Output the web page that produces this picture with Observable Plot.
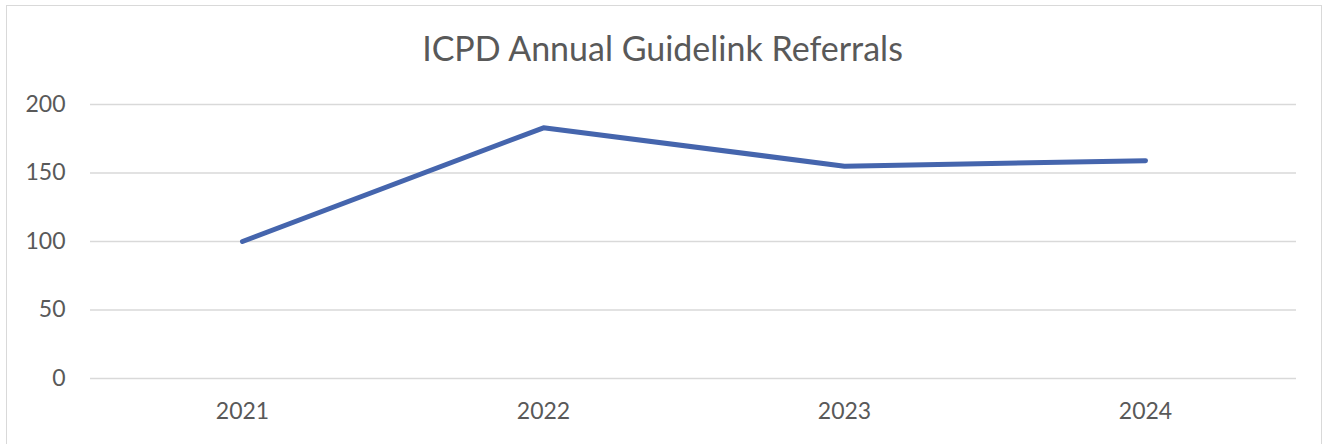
<!DOCTYPE html>
<html>
<head>
<meta charset="utf-8">
<script src="https://cdn.jsdelivr.net/npm/d3@7"></script>
<script src="https://cdn.jsdelivr.net/npm/@observablehq/plot@0.6"></script>
<style>
  html, body { margin: 0; padding: 0; background: #fff; }
  #wrap { position: relative; width: 1325px; height: 444px; overflow: hidden; font-family: Lato, "Open Sans", sans-serif; }
  #border { position: absolute; left: 6px; top: 5px; width: 1316px; height: 460px; border: 1.5px solid #d9d9d9; box-sizing: border-box; }
  #title { position: relative; height: 70px; box-sizing: border-box; padding-top: 31px; line-height: 34px; font-size: 34px; color: #595959; text-align: center; }
  #chart svg { display: block; position: relative; }
</style>
</head>
<body>
<div id="wrap">
  <div id="border"></div>
  <div id="title">ICPD Annual Guidelink Referrals</div>
  <div id="chart"></div>
</div>
<script>
const years = ["2021", "2022", "2023", "2024"];
const referrals = [100, 183, 155, 159];
const yTicks = [0, 50, 100, 150, 200];

const data = years.map((year, i) => ({year, value: referrals[i]}));

const chart = Plot.plot({
  width: 1325,
  height: 374,
  marginTop: 34,
  marginBottom: 66,
  marginLeft: 90,
  marginRight: 29,
  style: { fontFamily: "Lato, 'Open Sans', sans-serif", fontSize: "23px", color: "#595959", background: "transparent" },
  x: { type: "point", domain: years, padding: 0.5, align: 0.5, label: null },
  y: { domain: [0, 200], label: null },
  marks: [
    Plot.ruleY(yTicks, { stroke: "#d9d9d9", strokeWidth: 1.5 }),
    Plot.axisY({ ticks: yTicks, tickSize: 0, tickPadding: 25, fontSize: 23, fill: "#595959" }),
    Plot.axisX({ tickSize: 0, tickPadding: 24, fontSize: 23, fill: "#595959" }),
    Plot.line(data, { x: "year", y: "value", stroke: "#4565ad", strokeWidth: 5, strokeLinecap: "round", strokeLinejoin: "round" })
  ]
});
document.getElementById("chart").appendChild(chart);
</script>
</body>
</html>
